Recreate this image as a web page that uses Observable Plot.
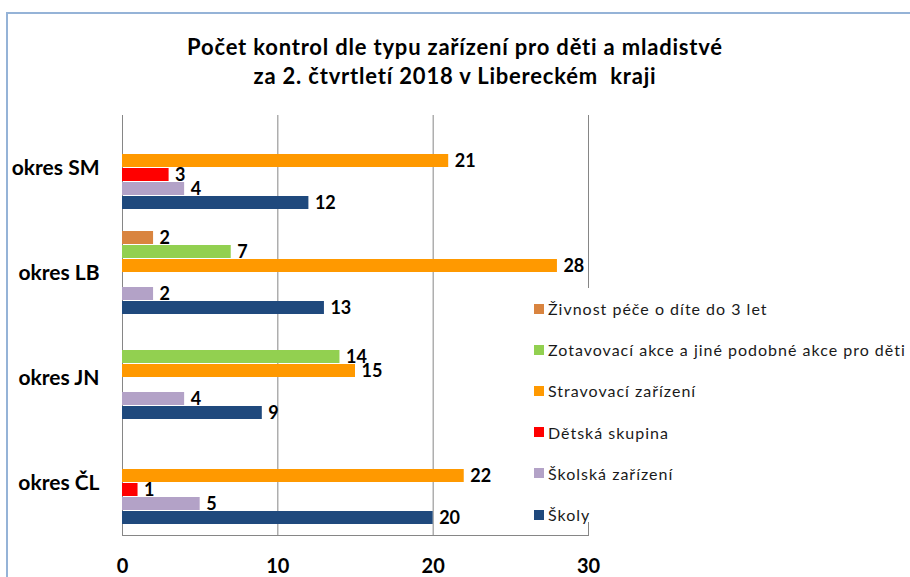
<!DOCTYPE html>
<html>
<head>
<meta charset="utf-8">
<script src="https://cdn.jsdelivr.net/npm/d3@7"></script>
<script src="https://cdn.jsdelivr.net/npm/@observablehq/plot@0.6"></script>
<style>
  html, body { margin: 0; padding: 0; background: #fff; overflow: hidden; width: 910px; height: 577px; }
  #wrap { position: relative; width: 910px; height: 577px; overflow: hidden; font-family: Lato, sans-serif; }
  #border { position: absolute; left: 6px; top: 12px; width: 2000px; height: 2000px;
            border-left: 2px solid #95B3D7; border-top: 2px solid #95B3D7; }
  #title { position: absolute; left: 0; top: 32px; width: 910px; text-align: center; font-weight: bold;
           font-size: 22px; letter-spacing: 0.8px; line-height: 29px; white-space: pre; color: #000; }
  #chart { position: absolute; left: 0; top: 0; }
  #chart svg text { fill: #000; }
  #chart svg [aria-label^="x-axis"] text { font-size: 20px; font-weight: bold; }
  #chart svg [aria-label^="fy-axis"] text { font-size: 21px; font-weight: bold; }
  #legend { position: absolute; left: 530px; top: 288px; width: 380px; height: 234px; background: #fff; }
  .row { position: absolute; left: 0; height: 41.2px; display: flex; align-items: center; white-space: nowrap;
         font-size: 16px; letter-spacing: 1px; color: #1a1a1a; }
  .sw { width: 10px; height: 10px; margin-left: 4px; margin-right: 4px; flex: none; }
</style>
</head>
<body>
<div id="wrap">
  <div id="border"></div>
  <div id="chart"></div>
  <div id="title"></div>
  <div id="legend"></div>
</div>
<script>
const titleLines = ["Počet kontrol dle typu zařízení pro děti a mladistvé", "za 2. čtvrtletí 2018 v Libereckém  kraji"];
const okresy = ["okres SM", "okres LB", "okres JN", "okres ČL"];
const series = [
  "Živnost péče o díte do 3 let",
  "Zotavovací akce a jiné podobné akce pro děti",
  "Stravovací zařízení",
  "Dětská skupina",
  "Školská zařízení",
  "Školy"
];
const colors = ["#D9843F", "#92D050", "#FF9900", "#FF0000", "#B3A2C7", "#1F497D"];
// values per okres, in order of okresy (null = no bar)
const zivnost    = [null, 2, null, null];
const zotavovaci = [null, 7, 14, null];
const stravovaci = [21, 28, 15, 22];
const detska     = [3, null, null, 1];
const skolska    = [4, 2, 4, 5];
const skoly      = [12, 13, 9, 20];
const xTicks = [0, 10, 20, 30];

const valuesBySeries = [zivnost, zotavovaci, stravovaci, detska, skolska, skoly];
const rows = [];
series.forEach((s, i) => okresy.forEach((o, j) => {
  const v = valuesBySeries[i][j];
  if (v != null) rows.push({okres: o, series: s, value: v});
}));

document.getElementById("title").textContent = titleLines.join("\n");

const chart = Plot.plot({
  width: 910,
  height: 577,
  marginTop: 115,
  marginBottom: 42,
  marginLeft: 122,
  marginRight: 322,
  style: {fontFamily: "Lato, sans-serif", color: "#868686", background: "transparent", overflow: "visible"},
  facet: {data: rows, y: "okres"},
  fy: {domain: okresy, padding: 0, axis: "left", label: null, tickSize: 0, tickPadding: 23},
  y: {domain: series, paddingInner: 0.07, paddingOuter: 0.785, axis: null},
  x: {domain: [0, 30], ticks: xTicks, label: null, tickSize: 0, tickPadding: 23, line: true},
  color: {domain: series, range: colors},
  marks: [
    Plot.ruleX(xTicks, {stroke: "#868686"}),
    Plot.barX(rows, {x: "value", y: "series", fill: "series"}),
    Plot.text(rows, {x: "value", y: "series", text: d => String(d.value), dx: 6, textAnchor: "start",
                     fontWeight: "bold", fontSize: 18, fill: "#000"})
  ]
});
document.getElementById("chart").appendChild(chart);

const legend = document.getElementById("legend");
series.forEach((s, i) => {
  const row = document.createElement("div");
  row.className = "row";
  row.style.top = (i * 41.2) + "px";
  const sw = document.createElement("span");
  sw.className = "sw";
  sw.style.background = colors[i];
  const t = document.createElement("span");
  t.textContent = s;
  row.appendChild(sw);
  row.appendChild(t);
  legend.appendChild(row);
});
</script>
</body>
</html>
